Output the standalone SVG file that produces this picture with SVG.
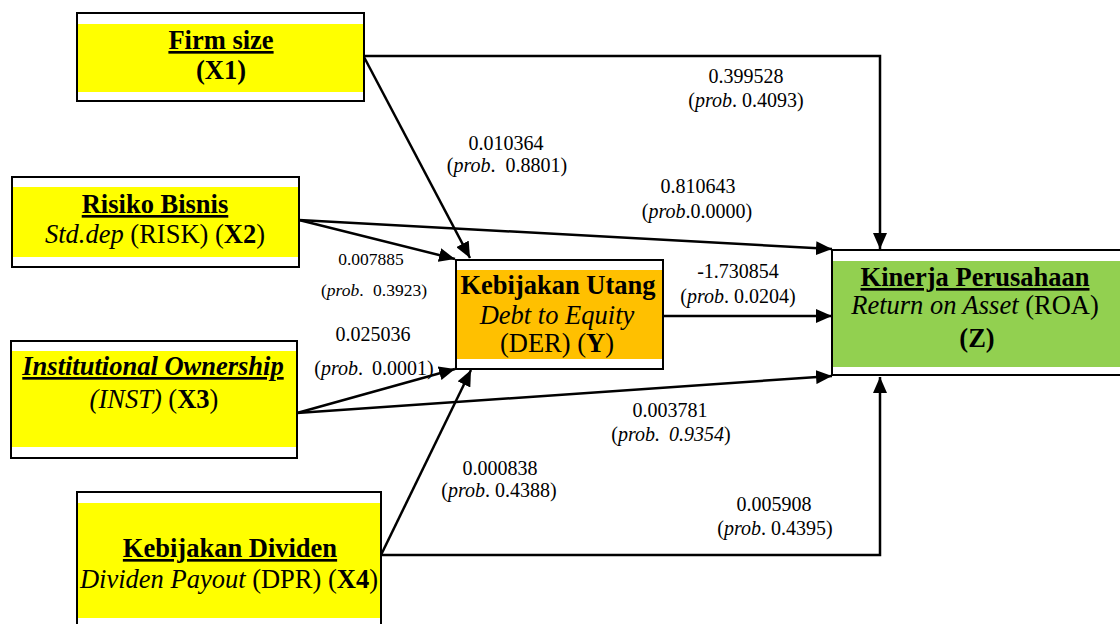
<svg xmlns="http://www.w3.org/2000/svg" width="1120" height="624" viewBox="0 0 1120 624">
  <style>
    text { font-family: "Liberation Serif", "Times New Roman", serif; fill: #000; }
    .box { stroke: #000; stroke-width: 2; fill: #fff; }
    .hd { font-size: 26.5px; font-weight: bold; text-anchor: middle; text-decoration: underline; }
    .bt { font-size: 26.5px; text-anchor: middle; }
    .lbl { font-size: 20px; text-anchor: middle; }
    .sm { font-size: 17.5px; text-anchor: middle; }
    .i { font-style: italic; }
    .b { font-weight: bold; }
    .conn { stroke: #000; stroke-width: 2.5; fill: none; marker-end: url(#arrow); }
  </style>
  <defs>
    <marker id="arrow" markerUnits="userSpaceOnUse" markerWidth="16" markerHeight="14" refX="16" refY="7" orient="auto">
      <path d="M0,0 L16,7 L0,14 Z" fill="#000"/>
    </marker>
  </defs>

  <rect width="1120" height="624" fill="#fff"/>

  <!-- Independent variables -->
  <g id="x1">
    <rect class="box" x="77" y="13" width="287" height="88"/>
    <rect x="78" y="24" width="285" height="68" fill="#ffff00"/>
    <text class="hd" x="221" y="49">Firm size</text>
    <text class="bt b" x="221" y="79">(X1)</text>
  </g>

  <g id="x2">
    <rect class="box" x="12" y="177" width="287" height="90"/>
    <rect x="13" y="187" width="285" height="70" fill="#ffff00"/>
    <text class="hd" x="155" y="213">Risiko Bisnis</text>
    <text class="bt" x="155" y="243"><tspan class="i">Std.dep</tspan> (RISK) (<tspan class="b">X2</tspan>)</text>
  </g>

  <g id="x3">
    <rect class="box" x="11" y="341" width="286" height="117"/>
    <rect x="12" y="351" width="284" height="96" fill="#ffff00"/>
    <text class="hd i" x="153" y="375">Institutional Ownership</text>
    <text class="bt" x="154" y="408"><tspan class="i">(INST)</tspan> (<tspan class="b">X3</tspan>)</text>
  </g>

  <g id="x4">
    <rect class="box" x="77" y="492" width="304" height="140"/>
    <rect x="78" y="503" width="302" height="115" fill="#ffff00"/>
    <text class="hd" x="230" y="557">Kebijakan Dividen</text>
    <text class="bt" x="229" y="588"><tspan class="i">Dividen Payout</tspan> (DPR) (<tspan class="b">X4</tspan>)</text>
  </g>

  <!-- Intervening variable -->
  <g id="y">
    <rect class="box" x="456" y="260" width="207" height="109"/>
    <rect x="457" y="270" width="205" height="89" fill="#ffc000"/>
    <text class="bt b" x="558" y="294">Kebijakan Utang</text>
    <text class="bt i" x="557" y="324">Debt to Equity</text>
    <text class="bt" x="557" y="352">(DER) (<tspan class="b">Y</tspan>)</text>
  </g>

  <!-- Dependent variable -->
  <g id="z">
    <rect class="box" x="832" y="250" width="300" height="125"/>
    <rect x="833" y="261" width="290" height="106" fill="#92d050"/>
    <text class="hd" x="975" y="286">Kinerja Perusahaan</text>
    <text class="bt" x="975" y="314"><tspan class="i">Return on Asset</tspan> (ROA)</text>
    <text class="bt b" x="977" y="347">(Z)</text>
  </g>

  <!-- Paths between variables -->
  <g id="connectors">
    <polyline class="conn" points="364,56 880,56 880,249"/>
    <line class="conn" x1="364" y1="57" x2="470" y2="258"/>
    <line class="conn" x1="299" y1="220" x2="832" y2="249"/>
    <line class="conn" x1="299" y1="220" x2="455" y2="259"/>
    <line class="conn" x1="297" y1="413" x2="455" y2="369"/>
    <line class="conn" x1="297" y1="413" x2="832" y2="376"/>
    <line class="conn" x1="381" y1="555" x2="471" y2="370"/>
    <polyline class="conn" points="381,555 880,555 880,377"/>
    <line class="conn" x1="663" y1="316" x2="832" y2="316"/>
  </g>

  <!-- Coefficients -->
  <g id="labels">
    <text class="lbl" x="746" y="83">0.399528</text>
    <text class="lbl" x="746" y="107">(<tspan class="i">prob</tspan>. 0.4093)</text>
    <text class="lbl" x="506" y="150">0.010364</text>
    <text class="lbl" x="507" y="172">(<tspan class="i">prob</tspan>. <tspan dx="5">0.8801)</tspan></text>
    <text class="lbl" x="698" y="193">0.810643</text>
    <text class="lbl" x="697" y="218">(<tspan class="i">prob</tspan>.0.0000)</text>
    <text class="sm" x="371" y="265">0.007885</text>
    <text class="sm" x="374" y="296">(<tspan class="i">prob</tspan>. <tspan dx="5">0.3923)</tspan></text>
    <text class="lbl" x="373" y="341">0.025036</text>
    <text class="lbl" x="374" y="375">(<tspan class="i">prob</tspan>. <tspan dx="4">0.0001)</tspan></text>
    <text class="lbl" x="738" y="278">-1.730854</text>
    <text class="lbl" x="738" y="303">(<tspan class="i">prob</tspan>. 0.0204)</text>
    <text class="lbl" x="670" y="417">0.003781</text>
    <text class="lbl" x="671" y="441">(<tspan class="i">prob. <tspan dx="4">0.9354</tspan></tspan>)</text>
    <text class="lbl" x="500" y="475">0.000838</text>
    <text class="lbl" x="499" y="497">(<tspan class="i">prob</tspan>. 0.4388)</text>
    <text class="lbl" x="774" y="511">0.005908</text>
    <text class="lbl" x="775" y="535">(<tspan class="i">prob</tspan>. 0.4395)</text>
  </g>
</svg>
